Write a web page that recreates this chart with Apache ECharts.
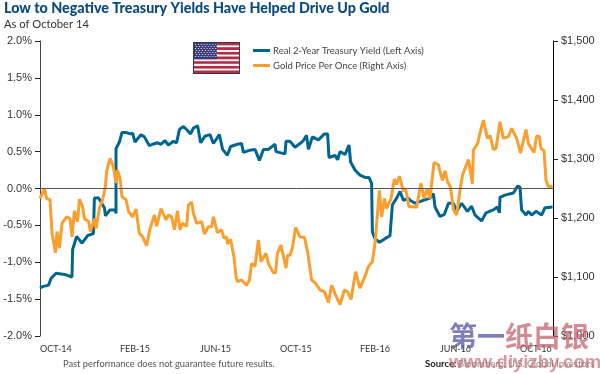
<!DOCTYPE html>
<html><head><meta charset="utf-8">
<style>html,body{margin:0;padding:0;background:#fff}#c{width:600px;height:374px}</style>
<script src="https://cdn.jsdelivr.net/npm/echarts@6/dist/echarts.min.js"></script>
</head><body><div id="c"></div>
<script>
const titleText = 'Low to Negative Treasury Yields Have Helped Drive Up Gold';
const subtitleText = 'As of October 14';
const yieldName = 'Real 2-Year Treasury Yield (Left Axis)';
const goldName = 'Gold Price Per Once (Right Axis)';
const footerText = 'Past performance does not guarantee future results.';
const monthLabels = ['OCT-14','FEB-15','JUN-15','OCT-15','FEB-16','JUN-16','OCT-16'];
const leftTicks = [-2,-1.5,-1,-0.5,0,0.5,1,1.5,2];
const rightTicks = [1000,1100,1200,1300,1400,1500];

// months since the start of the chart
const yieldMonths = [0,.13,.43,.55,.8,1.05,1.3,1.6,1.63,1.83,2.1,2.38,2.67,2.72,2.93,3.22,3.27,3.5,3.77,3.8,3.8,3.97,4.1,4.3,4.5,4.63,4.75,5.05,5.22,5.47,5.63,5.88,6.05,6.25,6.42,6.67,6.83,6.97,7.17,7.33,7.53,7.67,7.88,8.03,8.25,8.5,8.67,8.97,9.13,9.37,9.53,9.87,10.08,10.17,10.5,10.75,10.97,11.17,11.42,11.75,11.8,12.25,12.3,12.5,12.75,13,13.17,13.33,13.42,13.62,13.92,14.22,14.38,14.45,14.75,14.88,15,15.25,15.45,15.53,15.75,16,16.25,16.45,16.58,16.62,16.75,16.97,17.25,17.5,17.62,17.83,18,18.17,18.42,18.5,18.75,19.17,19.5,19.67,19.75,20,20.22,20.42,20.67,20.83,21.08,21.37,21.58,21.75,22.08,22.3,22.67,22.87,22.97,23,23.25,23.67,23.87,24,24.08,24.3,24.42,24.58,24.8,25.08,25.25,25.63];
const yieldValues = [-1.35,-1.33,-1.31,-1.22,-1.15,-1.16,-1.17,-1.2,-.83,-.65,-.74,-.64,-.61,-.13,-.13,-.26,-.37,-.29,-.29,-.34,.54,.63,.76,.76,.74,.75,.63,.73,.7,.58,.6,.62,.6,.65,.59,.64,.62,.8,.84,.8,.74,.82,.85,.62,.71,.73,.61,.73,.53,.45,.57,.6,.61,.49,.52,.53,.38,.53,.53,.6,.5,.47,.64,.64,.56,.61,.65,.72,.53,.7,.66,.74,.74,.42,.45,.39,.5,.46,.59,.36,.25,.18,.15,.15,.07,-.59,-.68,-.73,-.68,-.64,-.22,-.13,-.04,-.16,-.13,-.16,-.2,-.16,-.13,-.07,-.25,-.38,-.35,-.2,-.2,-.31,-.2,-.31,-.24,-.36,-.44,-.33,-.29,-.25,-.33,-.12,-.09,-.06,.03,.02,-.29,-.36,-.31,-.36,-.31,-.36,-.26,-.25];

const goldMonths = [0,.22,.33,.5,.6,.77,.85,.97,1.1,1.33,1.5,1.6,1.72,1.88,1.97,2.13,2.22,2.43,2.52,2.72,2.8,2.97,3.13,3.27,3.33,3.5,3.67,3.8,3.88,4,4.1,4.3,4.43,4.63,4.8,4.97,5.13,5.33,5.5,5.72,5.83,6.05,6.3,6.42,6.58,6.72,6.87,7,7.13,7.33,7.42,7.58,7.67,7.83,8.08,8.22,8.42,8.58,8.67,8.75,8.87,9.08,9.2,9.33,9.38,9.53,9.7,9.8,9.87,10.08,10.33,10.47,10.58,10.75,10.92,11.05,11.3,11.42,11.67,11.78,11.87,12.05,12.3,12.38,12.5,12.62,12.78,13,13.22,13.38,13.58,13.78,14,14.22,14.42,14.58,14.75,15,15.22,15.38,15.55,15.78,16,16.25,16.42,16.62,16.75,16.97,17.08,17.22,17.33,17.55,17.72,17.83,17.97,18.17,18.28,18.45,18.67,18.83,19.05,19.2,19.37,19.5,19.7,19.92,20,20.12,20.25,20.37,20.53,20.67,20.83,21,21.13,21.42,21.62,21.67,21.88,22,22.17,22.25,22.37,22.5,22.67,22.8,23,23.17,23.42,23.58,23.83,24.03,24.3,24.42,24.7,24.83,24.97,25.05,25.2,25.3,25.42,25.63];
const goldValues = [1233,1250,1233,1231,1174,1141,1177,1149,1191,1202,1199,1168,1212,1194,1232,1219,1199,1194,1177,1199,1182,1216,1231,1253,1279,1301,1287,1259,1281,1267,1236,1231,1211,1202,1215,1174,1168,1153,1182,1205,1186,1216,1197,1205,1202,1180,1212,1180,1191,1186,1222,1227,1208,1191,1194,1173,1185,1185,1202,1201,1175,1180,1166,1168,1156,1164,1134,1101,1092,1095,1086,1095,1123,1118,1163,1126,1140,1123,1107,1107,1140,1154,1115,1137,1137,1149,1184,1168,1167,1143,1095,1089,1078,1075,1057,1086,1072,1053,1078,1075,1062,1109,1081,1101,1118,1126,1157,1247,1202,1233,1216,1233,1266,1257,1271,1245,1250,1219,1219,1218,1259,1233,1250,1233,1294,1290,1279,1264,1280,1262,1252,1214,1205,1247,1273,1299,1258,1315,1326,1344,1366,1366,1335,1340,1316,1318,1363,1335,1338,1352,1335,1310,1350,1326,1311,1339,1338,1318,1314,1264,1253,1254];

const monthsPerLabel = 4;
const xMax = 25.65;
const blue = '#00668f';
const orange = '#fa9e2e';

function zip(a, b) { return a.map((v, i) => [v, b[i]]); }

function flag() {
  const x = 194, y = 43, w = 45, h = 30, out = [];
  out.push({type:'rect',shape:{x:x-1,y:y-1,width:w+2,height:h+2},style:{fill:'#3a3a48'}});
  const n = 13, sh = h / n;
  for (let i = 0; i < n; i++) {
    out.push({type:'rect',shape:{x,y:y+i*sh,width:w,height:sh},style:{fill:i%2?'#f4f2f4':'#c0263f'}});
  }
  const cw = 23, ch = sh*7;
  out.push({type:'rect',shape:{x,y,width:cw,height:ch},style:{fill:'#3a3a78'}});
  for (let r = 0; r < 7; r++) for (let c = 0; c < 8; c++) {
    out.push({type:'circle',shape:{cx:x+1.5+c*2.9+(r%2?1.2:0),cy:y+1.5+r*2,r:0.6},style:{fill:'#fff'}});
  }
  return out;
}

const chart = echarts.init(document.getElementById('c'), null, {renderer:'canvas'});
chart.setOption({
  animation:false,
  textStyle:{fontFamily:'Lato'},
  title:[
    {text:titleText,left:4,top:1,padding:0,textStyle:{fontFamily:'Lato',fontWeight:900,fontSize:14.3,color:'#0b4a7d'}},
    {text:subtitleText,left:4,top:19,padding:0,textStyle:{fontFamily:'Lato',fontWeight:400,fontSize:11.2,color:'#333'}}
  ],
  legend:{
    left:253,top:45,orient:'vertical',itemWidth:17,itemHeight:3,itemGap:4,padding:0,
    icon:'rect',
    data:[{name:yieldName},{name:goldName}],
    textStyle:{fontFamily:'Lato',fontSize:9.5,color:'#444',padding:[0,0,0,-2],lineHeight:11}
  },
  grid:{left:40,right:47,top:41,bottom:38,containLabel:false},
  xAxis:{
    type:'value',min:0,max:xMax,interval:monthsPerLabel,
    axisLine:{show:false},axisTick:{show:false},splitLine:{show:false},
    axisLabel:{
      align:'left',margin:9,showMaxLabel:false,fontFamily:'Lato',fontSize:9,color:'#333',
      formatter:v=>monthLabels[Math.round(v/monthsPerLabel)]||''
    }
  },
  yAxis:[
    {type:'value',min:leftTicks[0],max:leftTicks[leftTicks.length-1],interval:0.5,
     axisLine:{show:true,onZero:false,lineStyle:{color:'#444',width:1}},
     axisTick:{show:true,length:5,lineStyle:{color:'#222'}},splitLine:{show:false},
     axisLabel:{margin:8,fontFamily:'Liberation Sans',fontSize:11,color:'#333',formatter:v=>v.toFixed(1)+'%'}},
    {type:'value',min:rightTicks[0],max:rightTicks[rightTicks.length-1],interval:100,position:'right',
     axisLine:{show:true,onZero:false,lineStyle:{color:'#000',width:1}},
     axisTick:{show:true,length:5,lineStyle:{color:'#222'}},splitLine:{show:false},
     axisLabel:{margin:8,fontFamily:'Liberation Sans',fontSize:11,color:'#333',formatter:v=>'$'+v.toLocaleString('en-US')}}
  ],
  series:[
    {name:yieldName,type:'line',yAxisIndex:0,symbol:'none',data:zip(yieldMonths,yieldValues),
     lineStyle:{color:blue,width:3},itemStyle:{color:blue},z:2,
     markLine:{silent:true,symbol:'none',label:{show:false},animation:false,
       lineStyle:{color:'#555',width:1,type:'solid'},data:[{yAxis:0}]}},
    {name:goldName,type:'line',yAxisIndex:1,symbol:'none',data:zip(goldMonths,goldValues),
     lineStyle:{color:orange,width:3},itemStyle:{color:orange},z:3}
  ],
  graphic:[
    ...flag(),
    {type:'text',left:63,top:359,style:{text:footerText,fontFamily:'Lato',fontSize:9.3,fill:'#555'}},
    {type:'text',left:425,top:359,style:{text:'Source:',fontFamily:'Lato',fontWeight:'bold',fontSize:9.5,fill:'#222'}},
    {type:'text',left:458,top:359,style:{text:'Bloomberg, U.S. Global Investors',fontFamily:'Lato',fontSize:9.5,fill:'#888'}},
    {type:'text',left:449,top:322,z:50,style:{text:'第一',fontFamily:'Noto Sans CJK SC',fontWeight:'bold',fontSize:28,fill:'rgba(95,95,165,0.8)'}},
    {type:'text',left:505,top:322,z:50,style:{text:'纸白银',fontFamily:'Noto Sans CJK SC',fontWeight:'bold',fontSize:28,fill:'rgba(195,100,110,0.75)'}},
    {type:'text',left:449,top:353,z:50,style:{text:'www.diyizby.com',fontFamily:'Liberation Sans',fontWeight:'bold',fontSize:18.5,fill:'rgba(195,100,110,0.65)'}}
  ]
});
</script></body></html>
